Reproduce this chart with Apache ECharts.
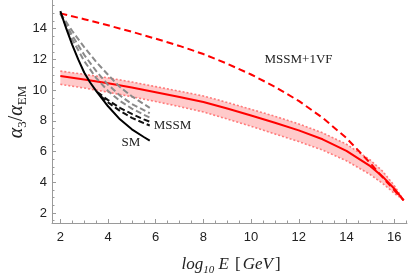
<!DOCTYPE html>
<html>
<head>
<meta charset="utf-8">
<script src="https://cdn.jsdelivr.net/npm/echarts@6/dist/echarts.min.js"></script>
<style>
html,body{margin:0;padding:0;background:#fff;}
#chart{width:415px;height:278px;}
</style>
</head>
<body>
<div id="chart"></div>
<script>
// ---- data ----
const xMajorTicks = [2, 4, 6, 8, 10, 12, 14, 16];
const xMinorTicks = [2, 2.5, 3, 3.5, 4, 4.5, 5, 5.5, 6, 6.5, 7, 7.5, 8, 8.5, 9, 9.5, 10, 10.5, 11, 11.5, 12, 12.5, 13, 13.5, 14, 14.5, 15, 15.5, 16, 16.5];
const yMajorTicks = [2, 4, 6, 8, 10, 12, 14];
const yMinorTicks = [1.5, 2, 2.5, 3, 3.5, 4, 4.5, 5, 5.5, 6, 6.5, 7, 7.5, 8, 8.5, 9, 9.5, 10, 10.5, 11, 11.5, 12, 12.5, 13, 13.5, 14, 14.5, 15, 15.5];

// SM (black solid)
const smX = [2, 2.25, 2.5, 2.75, 3, 3.25, 3.5, 4, 4.5, 5, 5.5, 5.75];
const smY = [15.15, 14.0, 12.95, 12.0, 11.15, 10.5, 9.95, 8.95, 8.1, 7.45, 6.95, 6.72];

// MSSM (gray dashed)
const mssmGrayX = [2, 2.5, 3, 3.5, 4, 4.5, 5, 5.5, 5.75];
const mssmGray1Y = [15.0, 13.85, 12.8, 11.85, 11.0, 10.2, 9.6, 9.1, 8.85];
const mssmGray2Y = [15.0, 13.55, 12.3, 11.25, 10.35, 9.65, 9.1, 8.7, 8.5];
const mssmGray3Y = [15.0, 13.3, 11.9, 10.8, 9.95, 9.3, 8.8, 8.4, 8.22];

// MSSM (black dashed)
const mssmBlack1X = [3.55, 4, 4.5, 5, 5.5, 5.75];
const mssmBlack1Y = [9.88, 9.35, 8.85, 8.45, 8.1, 7.95];
const mssmBlack2X = [3.7, 4, 4.5, 5, 5.5, 5.75];
const mssmBlack2Y = [9.6, 9.2, 8.65, 8.2, 7.85, 7.7];

// red band (solid centre, dotted edges)
const bandX = [2, 3, 4, 5, 6, 7, 8, 9, 10, 11, 12, 13, 14, 15, 15.5, 16, 16.4];
const bandCenter = [10.92, 10.7, 10.45, 10.17, 9.87, 9.56, 9.23, 8.8, 8.35, 7.88, 7.38, 6.8, 6.05, 5.05, 4.4, 3.6, 2.83];
const bandUpper = [11.24, 11.03, 10.8, 10.53, 10.23, 9.93, 9.62, 9.2, 8.75, 8.3, 7.8, 7.22, 6.48, 5.45, 4.75, 3.8, 2.83];
const bandLower = [10.38, 10.14, 9.87, 9.57, 9.26, 8.93, 8.58, 8.12, 7.65, 7.15, 6.65, 6.1, 5.4, 4.5, 3.95, 3.3, 2.83];

// MSSM+1VF (red dashed)
const vfX = [2, 3, 4, 5, 6, 7, 8, 9, 10, 11, 12, 13, 14, 15, 15.5, 16, 16.4];
const vfY = [15.0, 14.62, 14.22, 13.8, 13.35, 12.88, 12.35, 11.72, 11.02, 10.22, 9.3, 8.2, 6.88, 5.25, 4.35, 3.5, 2.83];

// ---- chart ----
const zip = (xs, ys) => xs.map((x, i) => [x, ys[i]]);
const chart = echarts.init(document.getElementById('chart'), null, {renderer: 'canvas'});

const axisGray = '#9a9a9a';
const labelStyle = {fontFamily: 'Liberation Sans, Arial, sans-serif', fontSize: 13, color: '#222'};
const serif = 'Liberation Serif, Times New Roman, serif';

function lineSeries(data, color, width, type, z) {
  return {
    type: 'line', data: data, xAxisIndex: 0, yAxisIndex: 0,
    showSymbol: false, symbol: 'none', silent: true, animation: false,
    smooth: false, sampling: null, z: z,
    lineStyle: {color: color, width: width, type: type, cap: 'butt', join: 'round'}
  };
}

const option = {
  animation: false,
  backgroundColor: '#fff',
  grid: {left: 52, right: 8, top: 0, bottom: 55, containLabel: false},
  xAxis: [
    {
      type: 'value', min: 1.65, max: 16.54, position: 'bottom',
      axisLine: {show: true, onZero: false, lineStyle: {color: axisGray, width: 1}},
      axisTick: {show: true, inside: true, length: 4, customValues: xMajorTicks, lineStyle: {color: axisGray}},
      axisLabel: Object.assign({show: true, margin: 8, customValues: xMajorTicks}, labelStyle),
      splitLine: {show: false}
    },
    {
      type: 'value', min: 1.65, max: 16.54, position: 'bottom',
      axisLine: {show: false, onZero: false},
      axisTick: {show: true, inside: true, length: 2.5, customValues: xMinorTicks, lineStyle: {color: axisGray}},
      axisLabel: {show: false},
      splitLine: {show: false}
    }
  ],
  yAxis: [
    {
      type: 'value', min: 1.35, max: 15.87, position: 'left',
      axisLine: {show: true, onZero: false, lineStyle: {color: axisGray, width: 1}},
      axisTick: {show: true, inside: true, length: 4, customValues: yMajorTicks, lineStyle: {color: axisGray}},
      axisLabel: Object.assign({show: true, margin: 5, customValues: yMajorTicks}, labelStyle),
      splitLine: {show: false}
    },
    {
      type: 'value', min: 1.35, max: 15.87, position: 'left',
      axisLine: {show: false, onZero: false},
      axisTick: {show: true, inside: true, length: 2.5, customValues: yMinorTicks, lineStyle: {color: axisGray}},
      axisLabel: {show: false},
      splitLine: {show: false}
    }
  ],
  series: [
    {
      type: 'custom', xAxisIndex: 0, yAxisIndex: 0, silent: true, z: 1,
      data: bandX.map((x, i) => [x, bandLower[i], bandUpper[i]]),
      encode: {x: 0, y: [1, 2]},
      renderItem: function (params, api) {
        if (params.dataIndex !== 0) return null;
        const pts = [];
        for (let i = 0; i < bandX.length; i++) pts.push(api.coord([bandX[i], bandUpper[i]]));
        for (let i = bandX.length - 1; i >= 0; i--) pts.push(api.coord([bandX[i], bandLower[i]]));
        return {type: 'polygon', shape: {points: pts}, style: {fill: '#ffcaca', stroke: null}};
      }
    },
    lineSeries(zip(bandX, bandUpper), '#ff7b7b', 1.6, [2, 2], 2),
    lineSeries(zip(bandX, bandLower), '#ff7b7b', 1.6, [2, 2], 2),
    lineSeries(zip(bandX, bandCenter), '#ff0000', 2, 'solid', 3),
    lineSeries(zip(vfX, vfY), '#ff0000', 2, [7, 4], 3),
    lineSeries(zip(mssmGrayX, mssmGray1Y), '#8a8a8a', 2, [6, 3], 4),
    lineSeries(zip(mssmGrayX, mssmGray2Y), '#8a8a8a', 2, [6, 3], 4),
    lineSeries(zip(mssmGrayX, mssmGray3Y), '#8a8a8a', 2, [6, 3], 4),
    lineSeries(zip(mssmBlack1X, mssmBlack1Y), '#111', 2, [6, 3], 5),
    lineSeries(zip(mssmBlack2X, mssmBlack2Y), '#111', 2, [6, 3], 5),
    lineSeries(zip(smX, smY), '#000', 2, 'solid', 6)
  ],
  graphic: [
    {type: 'text', x: 131, y: 143, z: 10, style: {text: 'SM', font: '13px ' + serif, fill: '#222', align: 'center', verticalAlign: 'middle'}},
    {type: 'text', x: 172.5, y: 126, z: 10, style: {text: 'MSSM', font: '13px ' + serif, fill: '#222', align: 'center', verticalAlign: 'middle'}},
    {type: 'text', x: 298.5, y: 60, z: 10, style: {text: 'MSSM+1VF', font: '13px ' + serif, fill: '#222', align: 'center', verticalAlign: 'middle'}},
    {
      type: 'text', x: 232, y: 265, z: 10,
      style: {
        text: '{a|log}{b|10}{a| E }{n|[}{a|GeV}{n|]}',
        align: 'center', verticalAlign: 'middle', fill: '#222',
        rich: {
          a: {fontFamily: serif, fontStyle: 'italic', fontSize: 17, lineHeight: 22, fill: '#222'},
          n: {fontFamily: serif, fontSize: 17, lineHeight: 22, fill: '#222', padding: [0, 2, 0, 2]},
          b: {fontFamily: serif, fontStyle: 'italic', fontSize: 11, verticalAlign: 'bottom', fill: '#222'}
        }
      }
    },
    {
      type: 'text', x: 17, y: 112, rotation: Math.PI / 2, z: 10,
      style: {
        text: '{i|α}{s|3}{n|/}{i|α}{s|EM}',
        align: 'center', verticalAlign: 'middle', fill: '#222',
        rich: {
          i: {fontFamily: serif, fontStyle: 'italic', fontSize: 20, lineHeight: 24, fill: '#222'},
          n: {fontFamily: serif, fontSize: 20, lineHeight: 24, fill: '#222'},
          s: {fontFamily: serif, fontSize: 13, verticalAlign: 'bottom', fill: '#222'}
        }
      }
    }
  ]
};
chart.setOption(option);
</script>
</body>
</html>
